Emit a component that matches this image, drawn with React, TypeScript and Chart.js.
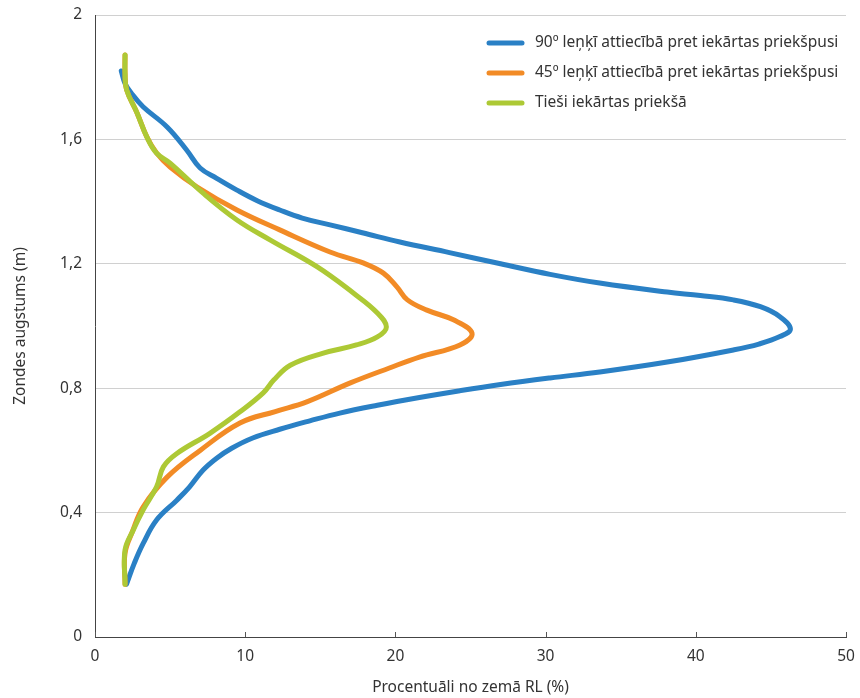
import React, { useEffect, useRef } from "react";
import { Chart, registerables } from "chart.js";

Chart.register(...registerables);

const seriesLabels = [
  "90º leņķī attiecībā pret iekārtas priekšpusi",
  "45º leņķī attiecībā pret iekārtas priekšpusi",
  "Tieši iekārtas priekšā",
];
const seriesColors = ["#2a80c5", "#f28b26", "#adc935"];

// 90º series: percent values and probe heights (m)
const pct90 = [2.1, 2.6, 3.2, 4.1, 5.45, 6.3, 7.2, 8.1, 9.1, 10.5, 12.3, 14.3, 16.3, 18.8, 21.6, 24.3, 27, 30.3, 33.6, 38.1, 42.5, 44.2, 45.6, 46.3, 45.6, 44.3, 42.5, 40.3, 38.1, 33.6, 30.3, 27, 23.6, 20.3, 17.8, 15.65, 13.8, 12.3, 10.8, 9.45, 8.1, 7.0, 6.1, 4.8, 3.2, 2.4, 2.0, 1.75];
const h90 = [0.17, 0.235, 0.3, 0.376, 0.44, 0.483, 0.537, 0.575, 0.607, 0.64, 0.668, 0.695, 0.72, 0.745, 0.77, 0.792, 0.812, 0.833, 0.852, 0.884, 0.923, 0.942, 0.966, 0.99, 1.03, 1.062, 1.084, 1.098, 1.109, 1.138, 1.166, 1.2, 1.236, 1.27, 1.3, 1.325, 1.347, 1.373, 1.403, 1.437, 1.475, 1.508, 1.566, 1.64, 1.705, 1.75, 1.78, 1.82];

// 45º series
const pct45 = [2, 2, 2.5, 3.2, 4.8, 7, 9.65, 12.0, 14.1, 17, 19.6, 21.6, 24.3, 25.1, 23.9, 22.1, 20.8, 20.1, 19.2, 17.9, 15.65, 12.3, 9.45, 6.8, 5, 4.1, 3.45, 2.8, 2.1, 2, 2];
const h45 = [0.17, 0.27, 0.34, 0.418, 0.514, 0.6, 0.688, 0.725, 0.756, 0.817, 0.865, 0.9, 0.939, 0.977, 1.019, 1.051, 1.084, 1.126, 1.17, 1.202, 1.238, 1.309, 1.373, 1.447, 1.511, 1.556, 1.608, 1.685, 1.76, 1.813, 1.871];

// Directly in front series
const pctFront = [2, 2, 2.55, 3.2, 4.1, 4.55, 5.45, 7.65, 9.65, 11.2, 11.9, 13, 15.2, 17.4, 18.8, 19.4, 18.8, 17.2, 14.8, 11.65, 9.45, 7.2, 5, 4.1, 3.45, 2.8, 2.1, 2, 2];
const hFront = [0.17, 0.28, 0.344, 0.408, 0.483, 0.547, 0.59, 0.655, 0.724, 0.785, 0.826, 0.874, 0.913, 0.939, 0.965, 0.997, 1.042, 1.106, 1.19, 1.277, 1.341, 1.427, 1.524, 1.556, 1.608, 1.685, 1.76, 1.813, 1.871];

const xTicks = [0, 10, 20, 30, 40, 50];
const yTicks = [0, 0.4, 0.8, 1.2, 1.6, 2];
const xTitle = "Procentuāli no zemā RL (%)";
const yTitle = "Zondes augstums (m)";

const FONT = "'Noto Sans', sans-serif";
const FS = 15.5;
const TEXT = "#333";

const toPoints = (xs: number[], ys: number[]) => xs.map((x, i) => ({ x, y: ys[i] }));

export default function App() {
  const ref = useRef<HTMLCanvasElement | null>(null);
  useEffect(() => {
    document.body.style.margin = "0";
    const canvas = ref.current!;
    const legendPlugin = {
      id: "insideLegend",
      afterDraw(chart: any) {
        const ctx = chart.ctx;
        ctx.save();
        const xs = chart.scales.x;
        const bottom = chart.chartArea.bottom;
        ctx.strokeStyle = "#555";
        ctx.lineWidth = 1;
        xTicks.forEach((v) => {
          const px = Math.round(xs.getPixelForValue(v)) + 0.5;
          ctx.beginPath();
          ctx.moveTo(px, bottom);
          ctx.lineTo(px, bottom - 5);
          ctx.stroke();
        });
        const rows = [43, 73, 103];
        seriesLabels.forEach((lab, i) => {
          ctx.strokeStyle = seriesColors[i];
          ctx.lineWidth = 5;
          ctx.lineCap = "round";
          ctx.beginPath();
          ctx.moveTo(489, rows[i]);
          ctx.lineTo(522, rows[i]);
          ctx.stroke();
          ctx.fillStyle = TEXT;
          ctx.font = FS + "px " + FONT;
          ctx.textBaseline = "middle";
          ctx.textAlign = "left";
          ctx.fillText(lab, 535, rows[i]);
        });
        ctx.restore();
      },
    };
    const mk = (i: number, xs: number[], ys: number[], order: number) => ({
      label: seriesLabels[i],
      data: toPoints(xs, ys),
      showLine: true,
      order,
      borderColor: seriesColors[i],
      backgroundColor: seriesColors[i],
      borderWidth: 5,
      pointRadius: 0,
      tension: 0.4,
      borderCapStyle: "round" as const,
      borderJoinStyle: "round" as const,
    });
    const chart = new Chart(canvas, {
      type: "scatter",
      data: {
        datasets: [
          mk(0, pct90, h90, 2),
          mk(1, pct45, h45, 1),
          mk(2, pctFront, hFront, 0),
        ],
      },
      plugins: [legendPlugin],
      options: {
        animation: false,
        responsive: false,
        maintainAspectRatio: false,
        layout: { padding: { left: 0, right: 14, top: 15, bottom: 0 } },
        plugins: {
          legend: { display: false },
          tooltip: { enabled: false },
        },
        scales: {
          x: {
            type: "linear",
            min: 0,
            max: 50,
            afterFit: (s: any) => {
              s.height = 61;
              s.paddingLeft = 0;
              s.paddingRight = 0;
            },
            afterBuildTicks: (s: any) => {
              s.ticks = xTicks.map((v) => ({ value: v }));
            },
            grid: { display: false, drawTicks: false },
            border: { display: true, color: "#444", width: 1 },
            ticks: {
              padding: 10,
              color: TEXT,
              font: { family: FONT, size: FS },
            },
            title: {
              display: true,
              text: xTitle,
              color: TEXT,
              font: { family: FONT, size: FS },
              padding: { top: 0, bottom: 1 },
            },
          },
          y: {
            type: "linear",
            min: 0,
            max: 2,
            afterFit: (s: any) => {
              s.width = 95;
              s.paddingTop = 0;
              s.paddingBottom = 0;
            },
            afterBuildTicks: (s: any) => {
              s.ticks = yTicks.map((v) => ({ value: v }));
            },
            grid: { color: "#d0d0d0", lineWidth: 1, drawTicks: false },
            border: { display: true, color: "#444", width: 1 },
            ticks: {
              padding: 13,
              color: TEXT,
              font: { family: FONT, size: FS },
              callback: (v: any) => String(Math.round(Number(v) * 10) / 10).replace(".", ","),
            },
            title: {
              display: true,
              text: yTitle,
              color: TEXT,
              font: { family: FONT, size: FS },
              padding: { top: 11, bottom: 0 },
            },
          },
        },
      },
    });
    return () => chart.destroy();
  }, []);
  return (
    <div style={{ position: "absolute", left: 0, top: 0, width: 860, height: 698, background: "#fff" }}>
      <canvas ref={ref} width={860} height={698} style={{ width: 860, height: 698, display: "block" }} />
    </div>
  );
}
